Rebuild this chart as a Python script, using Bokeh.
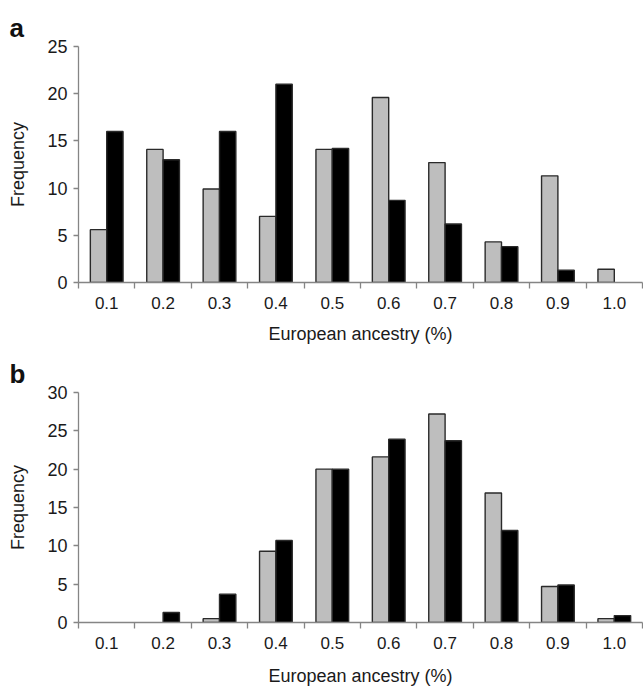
from bokeh.plotting import figure
from bokeh.layouts import column
from bokeh.models import Range1d, FixedTicker, ColumnDataSource
from bokeh.embed import file_html
from bokeh.resources import INLINE

categories = ["0.1", "0.2", "0.3", "0.4", "0.5", "0.6", "0.7", "0.8", "0.9", "1.0"]
a_gray = [5.6, 14.1, 9.9, 7.0, 14.1, 19.6, 12.7, 4.3, 11.3, 1.4]
a_black = [16.0, 13.0, 16.0, 21.0, 14.2, 8.7, 6.2, 3.8, 1.3, 0.0]
b_gray = [0.0, 0.0, 0.5, 9.3, 20.0, 21.6, 27.2, 16.9, 4.7, 0.5]
b_black = [0.0, 1.3, 3.7, 10.7, 20.0, 23.9, 23.7, 12.0, 4.9, 0.9]
a_yticks = [0, 5, 10, 15, 20, 25]
b_yticks = [0, 5, 10, 15, 20, 25, 30]

FONT = "Liberation Sans"
AXIS_COLOR = "#858585"
TEXT_COLOR = "#1a1a1a"


def panel(letter, gray, black, yticks, height, top_border, bottom_border,
          title_standoff, xlabel_standoff):
    n = len(categories)
    centers = [i + 1 for i in range(n)]
    bounds = [i + 0.5 for i in range(n + 1)]
    p = figure(width=643, height=height, output_backend="svg", toolbar_location=None,
               x_range=Range1d(0.5, n + 0.5), y_range=Range1d(0, yticks[-1]),
               min_border_left=78, min_border_right=1,
               min_border_top=top_border, min_border_bottom=bottom_border)
    p.title.text = letter
    p.title.text_font = FONT
    p.title.text_font_size = "26px"
    p.title.text_font_style = "bold"
    p.title.text_color = "#111111"
    p.title.align = "left"
    p.title.offset = -69
    p.title.standoff = title_standoff
    p.outline_line_color = None
    p.xgrid.visible = False
    p.ygrid.visible = False

    for vals, shift, fill in ((gray, -0.145, "#bebebe"), (black, 0.145, "#000000")):
        src = ColumnDataSource(dict(
            x=[c + shift for c in centers],
            top=vals,
            la=[1.0 if v > 0 else 0.0 for v in vals],
        ))
        p.vbar(x="x", top="top", width=0.29, source=src, fill_color=fill,
               line_color="#2a2a2a", line_width=1.4, line_alpha="la")

    xa = p.xaxis[0]
    xa.ticker = FixedTicker(ticks=centers, minor_ticks=bounds)
    xa.major_label_overrides = {c: lab for c, lab in zip(centers, categories)}
    xa.major_tick_out = 0
    xa.major_tick_in = 0
    xa.minor_tick_out = 6
    xa.minor_tick_in = 0
    xa.minor_tick_line_color = AXIS_COLOR
    xa.axis_line_color = AXIS_COLOR
    xa.axis_line_width = 1.3
    xa.minor_tick_line_width = 1.3
    xa.major_label_text_font = FONT
    xa.major_label_text_font_size = "17px"
    xa.major_label_text_color = TEXT_COLOR
    xa.major_label_standoff = 8
    xa.axis_label = "European ancestry (%)"
    xa.axis_label_text_font = FONT
    xa.axis_label_text_font_size = "18px"
    xa.axis_label_text_font_style = "normal"
    xa.axis_label_text_color = TEXT_COLOR
    xa.axis_label_standoff = xlabel_standoff

    ya = p.yaxis[0]
    ya.ticker = FixedTicker(ticks=yticks, minor_ticks=[])
    ya.major_tick_out = 5
    ya.major_tick_in = 0
    ya.major_tick_line_color = AXIS_COLOR
    ya.major_tick_line_width = 1.3
    ya.axis_line_color = AXIS_COLOR
    ya.axis_line_width = 1.3
    ya.major_label_text_font = FONT
    ya.major_label_text_font_size = "18px"
    ya.major_label_text_color = TEXT_COLOR
    ya.major_label_standoff = 6
    ya.axis_label = "Frequency"
    ya.axis_label_text_font = FONT
    ya.axis_label_text_font_size = "18px"
    ya.axis_label_text_font_style = "normal"
    ya.axis_label_text_color = TEXT_COLOR
    ya.axis_label_standoff = 16
    return p


pa = panel("a", a_gray, a_black, a_yticks, 346, 46, 64, 7, 12)
pb = panel("b", b_gray, b_black, b_yticks, 342, 46, 66, 8, 14)

layout = column(pa, pb, spacing=0)
open("out.html", "w").write(file_html(layout, INLINE))
